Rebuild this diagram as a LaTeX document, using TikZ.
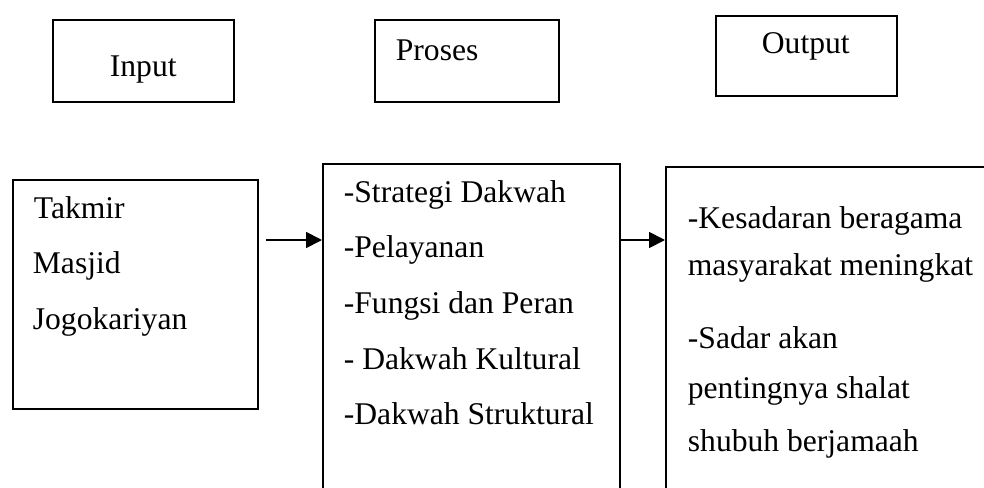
\documentclass[tikz,border=0pt]{standalone}
\usepackage{fontspec}
\setmainfont{Liberation Serif}
\usetikzlibrary{arrows.meta, positioning}
\newcommand{\labelsize}{\fontsize{31.6}{38}\selectfont}

\begin{document}
\begin{tikzpicture}[x=1pt,y=-1pt,style={line width=1.8pt}]
            \path[use as bounding box, clip] (0,0) rectangle (984,487);
            \begin{scope}[shape=rectangle,inner sep=0pt]
            \tikzstyle{every node}=[font=\labelsize]
            \tikzstyle{box}=[draw,anchor=north west]
            \tikzstyle{txt}=[anchor=base west]

            \node[box,minimum width=181pt,minimum height=82pt] (in_head) at (52,19) {};
            \node[box,minimum width=184pt,minimum height=82pt] (pr_head) at (374,19) {};
            \node[box,minimum width=181pt,minimum height=80pt] (out_head) at (715,15) {};

            \node[box,minimum width=245pt,minimum height=229pt] (in_box) at (12,179) {};
            \node[box,minimum width=297pt,minimum height=340pt] (pr_box) at (322,163) {};
            \node[box,minimum width=340pt,minimum height=340pt] (out_box) at (665,166) {};

            \node[txt] (t_input) at (109,76) {Input};
            \node[txt] (t_proses) at (395,60) {Proses};
            \node[txt] (t_output) at (761,54) {Output};

            \node[txt] (t_takmir) at (33,218) {Takmir};
            \node[txt] (t_masjid) at (32,273) {Masjid};
            \node[txt] (t_jogo) at (32,329) {Jogokariyan};

            \node[txt] (p_1) at (343,202) {-Strategi Dakwah};
            \node[txt] (p_2) at (343,257) {-Pelayanan};
            \node[txt] (p_3) at (343,313) {-Fungsi dan Peran};
            \node[txt] (p_4) at (343,369) {- Dakwah Kultural};
            \node[txt] (p_5) at (343,424) {-Dakwah Struktural};

            \node[txt] (o_1) at (687,228) {-Kesadaran beragama};
            \node[txt] (o_2) at (687,275) {masyarakat meningkat};
            \node[txt] (o_3) at (687,348) {-Sadar akan};
            \node[txt] (o_4) at (687,398) {pentingnya shalat};
            \node[txt] (o_5) at (687,451) {shubuh berjamaah};

            \coordinate (a_start) at (266,240);
            \draw [-{Triangle[length=16pt,width=16pt]}] (a_start) -- (a_start -| pr_box.west);
            \draw [-{Triangle[length=16pt,width=16pt]}] (pr_box.east |- a_start) -- (out_box.west |- a_start);

            \end{scope}
        \end{tikzpicture}
\end{document}
